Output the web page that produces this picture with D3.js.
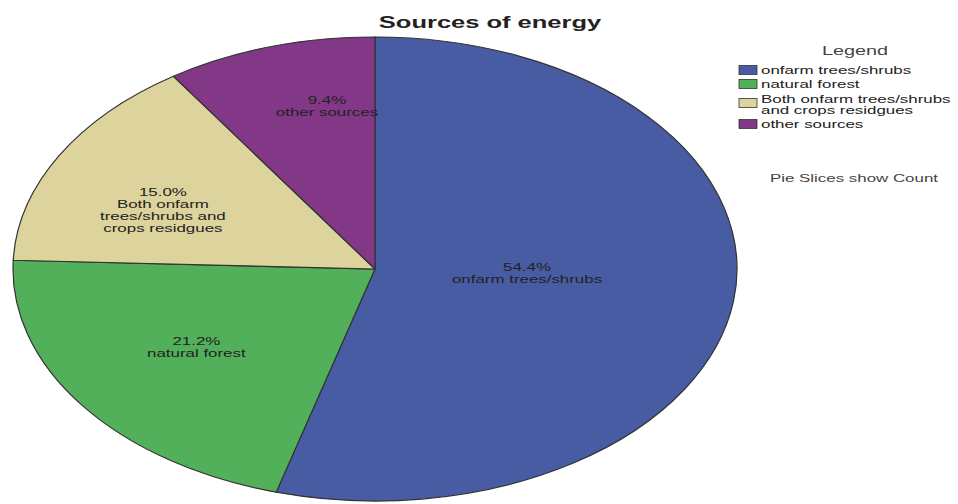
<!DOCTYPE html>
<html>
<head>
<meta charset="utf-8">
<script src="https://cdn.jsdelivr.net/npm/d3@7"></script>
<style>
  body { margin: 0; background: #fff; }
  text { font-family: "Liberation Sans", Arial, sans-serif; }
</style>
</head>
<body>
<div id="viz"></div>
<script>
const width = 958;
const height = 504;

// data
const categories = ['onfarm trees/shrubs', 'natural forest', 'Both onfarm trees/shrubs and crops residgues', 'other sources'];
const percents = [54.4, 21.2, 15.0, 9.4];
const sliceLabels = [
  ['onfarm trees/shrubs'],
  ['natural forest'],
  ['Both onfarm', 'trees/shrubs and', 'crops residgues'],
  ['other sources']
];
const legendLabels = [
  ['onfarm trees/shrubs'],
  ['natural forest'],
  ['Both onfarm trees/shrubs', 'and crops residgues'],
  ['other sources']
];
const colors = ['#485ca3', '#52b05a', '#ddd39c', '#823787'];

// layout
const cx = 375, cy = 269, rx = 362, ry = 232;
// where each label sits, as a fraction of the radius along the slice's mid angle
const labelKx = [0.424, 0.61, 0.671, 0.456];
const labelKy = [0.125, 0.575, 0.522, 0.734];
const sx = 1.47; // the reference's text is stretched sideways
const lineH = 12;

const data = categories.map((c, i) => ({ key: c, value: percents[i], i: i }));

const colour = d3.scaleOrdinal().domain(categories).range(colors);

const svg = d3.select('#viz')
  .append('svg')
    .attr('width', width)
    .attr('height', height);

const pie = d3.pie().sort(null).value(d => d.value);
const arcs = pie(data);

const r = 100;
const arc = d3.arc().innerRadius(0).outerRadius(r);

// pie drawn as a circle, then stretched into the ellipse
svg.append('g')
    .attr('class', 'slices')
    .attr('transform', `translate(${cx},${cy}) scale(${rx / r},${ry / r})`)
  .selectAll('path')
  .data(arcs)
  .join('path')
    .attr('d', arc)
    .attr('fill', d => colour(d.data.key))
    .attr('stroke', '#333')
    .attr('stroke-width', 1.2)
    .attr('vector-effect', 'non-scaling-stroke');

// slice labels
const labels = svg.append('g').attr('class', 'labels')
  .selectAll('text')
  .data(arcs)
  .join('text')
    .attr('text-anchor', 'middle')
    .attr('fill', '#222')
    .style('font-size', '11.5px')
    .attr('transform', d => {
      const a = (d.startAngle + d.endAngle) / 2;
      const x = cx + Math.sin(a) * rx * labelKx[d.data.i];
      const n = sliceLabels[d.data.i].length + 1;
      const y = cy - Math.cos(a) * ry * labelKy[d.data.i] - (n - 1) * lineH / 2 + 4;
      return `translate(${x},${y}) scale(${sx},1)`;
    });

labels.selectAll('tspan')
  .data(d => [d3.format('.1f')(d.data.value) + '%'].concat(sliceLabels[d.data.i]))
  .join('tspan')
    .attr('x', 0)
    .attr('y', (d, j) => j * lineH)
    .text(d => d);

// title
svg.append('text')
    .attr('transform', `translate(490,28) scale(1.5,1)`)
    .attr('text-anchor', 'middle')
    .attr('fill', '#222')
    .style('font-size', '17px')
    .style('font-weight', 'bold')
    .text('Sources of energy');

// legend
const legend = svg.append('g').attr('class', 'legend');
legend.append('text')
    .attr('transform', `translate(855,55) scale(${sx},1)`)
    .attr('text-anchor', 'middle')
    .attr('fill', '#444')
    .style('font-size', '13.5px')
    .text('Legend');

const rowY = [70, 84, 103, 124];
const items = legend.selectAll('g.item')
  .data(categories)
  .join('g')
    .attr('class', 'item')
    .attr('transform', (d, i) => `translate(739,${rowY[i]})`);

items.append('rect')
    .attr('x', 0)
    .attr('y', -4.5)
    .attr('width', 18)
    .attr('height', 9)
    .attr('fill', d => colour(d))
    .attr('stroke', '#333')
    .attr('stroke-width', 0.8);

items.append('text')
    .attr('fill', '#222')
    .style('font-size', '11.5px')
    .attr('transform', (d, i) => `translate(22,${legendLabels[i].length > 1 ? 0 : 4}) scale(${sx},1)`)
  .selectAll('tspan')
  .data((d, i) => legendLabels[i])
  .join('tspan')
    .attr('x', 0)
    .attr('y', (d, j) => j * 11.5)
    .text(d => d);

svg.append('text')
    .attr('transform', `translate(854,182) scale(${sx},1)`)
    .attr('text-anchor', 'middle')
    .attr('fill', '#444')
    .style('font-size', '11.5px')
    .text('Pie Slices show Count');
</script>
</body>
</html>
